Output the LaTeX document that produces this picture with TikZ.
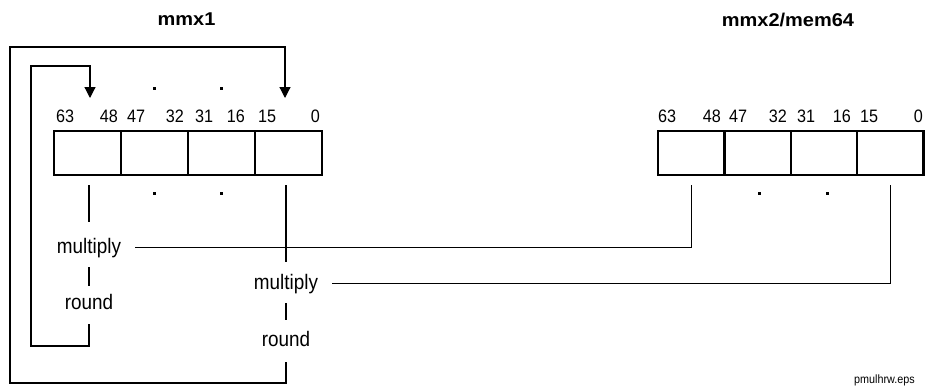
\documentclass[tikz,border=0pt]{standalone}
\usepackage{fontspec}
\setmainfont{Liberation Sans}[FakeStretch=0.9]
\newfontfamily\ttlfont{Liberation Sans}[FakeStretch=1.08]
\usetikzlibrary{arrows.meta}
\begin{document}
\begin{tikzpicture}[x=1pt,y=-1pt,
  cell/.style={draw, line width=2.3pt, minimum width=67pt, minimum height=44pt, inner sep=0pt, outer sep=0pt},
  rcell/.style={cell, minimum width=66.4pt},
  lbl/.style={font=\fontsize{21}{25}\selectfont, inner sep=0pt, text height=15pt, text depth=4pt, anchor=base},
  bitl/.style={font=\fontsize{18}{21}\selectfont, inner sep=0pt, anchor=base west},
  bitr/.style={font=\fontsize{18}{21}\selectfont, inner sep=0pt, anchor=base east},
  ttl/.style={font=\ttlfont\bfseries\fontsize{18.5}{22}\selectfont, inner sep=0pt, anchor=base},
  conn/.style={line width=1.2pt},
  tip/.style={-{Triangle[width=11pt,length=11pt]}},
  dotm/.style={fill=black}
]
\useasboundingbox (0,0) rectangle (925,391);

% titles
\node[ttl] (t1) at (186.5,25) {mmx1};
\node[ttl] (t2) at (788,26) {mmx2/mem64};

% left register
\node[cell] (a1) at (87.5,153) {};
\node[cell] (a2) at (154.5,153) {};
\node[cell] (a3) at (221.5,153) {};
\node[cell] (a4) at (288.5,153) {};

% right register
\node[rcell] (b1) at (691.2,153) {};
\node[rcell] (b2) at (757.6,153) {};
\node[rcell] (b3) at (824,153) {};
\node[rcell] (b4) at (890.4,153) {};

% bit labels left
\node[bitl] (l63) at (56,122.5) {63};
\node[bitr] (l48) at (118,122.5) {48};
\node[bitl] (l47) at (127,122.5) {47};
\node[bitr] (l32) at (184,122.5) {32};
\node[bitl] (l31) at (195,122.5) {31};
\node[bitr] (l16) at (245,122.5) {16};
\node[bitl] (l15) at (258,122.5) {15};
\node[bitr] (l0) at (320,122.5) {0};

% bit labels right
\node[bitl] (r63) at (658,122.5) {63};
\node[bitr] (r48) at (721,122.5) {48};
\node[bitl] (r47) at (729,122.5) {47};
\node[bitr] (r32) at (787,122.5) {32};
\node[bitl] (r31) at (797,122.5) {31};
\node[bitr] (r16) at (851,122.5) {16};
\node[bitl] (r15) at (860,122.5) {15};
\node[bitr] (r0) at (923,122.5) {0};

% dots
\foreach \dx/\dy in {154/88, 221/88, 154/193, 221/193, 759/193, 827/193}
  \fill[dotm] (\dx-1.5,\dy-1.5) rectangle (\dx+1.5,\dy+1.5);

% operation labels
\node[lbl] (m1) at (89,253) {multiply};
\node[lbl] (r1) at (89,309) {round};
\node[lbl] (m2) at (286,289) {multiply};
\node[lbl] (r2) at (286,346) {round};

% loop coordinates
\coordinate (il) at (31,346);
\coordinate (it) at (31,66);
\coordinate (ie) at (90,98);
\coordinate (ol) at (10,383);
\coordinate (ot) at (10,47);
\coordinate (oe) at (285,98);

% vertical connectors
\draw[conn, shorten <=10pt, shorten >=16pt] (a1.south -| m1.north) -- (m1.north);
\draw[conn, shorten <=10pt, shorten >=8pt] (m1.south) -- (r1.north);
\draw[conn, shorten <=10pt, shorten >=12pt] (a4.south -| m2.north) -- (m2.north);
\draw[conn, shorten <=10pt, shorten >=11pt] (m2.south) -- (r2.north);

% feedback loops
\draw[conn, tip, shorten <=11pt] (r1.south) |- (il) -- (it) -| (ie);
\draw[conn, tip, shorten <=12pt] (r2.south) |- (ol) -- (ot) -| (oe);

% horizontal connectors to mmx2
\draw[conn, shorten <=14pt, shorten >=10pt] (m1.east) -| (b1.south);
\draw[conn, shorten <=14pt, shorten >=10pt] (m2.east) -| (b4.south);

% file name
\node[font=\fontsize{12}{14}\selectfont, inner sep=0pt, anchor=base east] (eps) at (915,383) {pmulhrw.eps};
\end{tikzpicture}
\end{document}
